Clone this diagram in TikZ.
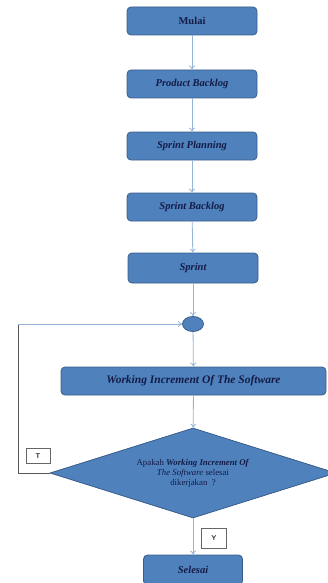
\documentclass[tikz,border=0pt]{standalone}
\usepackage{fontspec}
\setmainfont{Liberation Serif}
\usetikzlibrary{shapes.geometric,arrows.meta}
\definecolor{boxfill}{RGB}{79,129,189}
\definecolor{boxline}{RGB}{56,93,138}
\definecolor{flowline}{RGB}{150,180,215}
\definecolor{textnavy}{RGB}{20,28,70}

\begin{document}
\begin{tikzpicture}[x=1pt, y=-1pt,
  stepbox/.style={draw=boxline, fill=boxfill, rounded corners=4pt, line width=0.8pt,
    minimum width=130pt, minimum height=28pt, inner sep=0pt, text=textnavy,
    font=\fontsize{10.5}{12}\selectfont\bfseries\itshape},
  flow/.style={draw=flowline, line width=0.8pt, -{To[length=4pt,width=6pt]}},
  tag/.style={draw=gray!80!black, fill=white, line width=0.8pt, inner sep=0pt,
    font=\fontsize{7}{8}\selectfont\sffamily\bfseries, text=black!80}]
\useasboundingbox (0,0) rectangle (327,583);
% main column
\node[stepbox, font=\fontsize{10.5}{12}\selectfont\bfseries] (mulai) at (192,21) {Mulai};
\node[stepbox] (pb) at (192,84) {Product Backlog};
\node[stepbox] (sp) at (192,146) {Sprint Planning};
\node[stepbox] (sb) at (192,207) {Sprint Backlog};
\node[stepbox, minimum height=30pt] (sprint) at (193,268) {Sprint};
\node[draw=boxline, fill=boxfill, ellipse, minimum width=21pt, minimum height=15pt, inner sep=0pt,
  line width=0.8pt] (mid) at (193,324) {};
\node[stepbox, minimum width=265pt, font=\fontsize{11.5}{13}\selectfont\bfseries\itshape] (wi) at (193.5,381)
  {Working Increment Of The Software};
\node[draw=boxline, fill=boxfill, diamond, aspect=3.2, minimum width=286pt, minimum height=90pt,
  inner sep=0pt, line width=0.8pt, align=center, text=textnavy,
  font=\fontsize{8.8}{10}\selectfont] (dec) at (193,473)
  {Apakah \textit{\textbf{Working Increment Of}}\\ \textit{The Software} selesai\\ dikerjakan\ \ ?};
\node[stepbox, minimum width=99pt, minimum height=30pt] (selesai) at (193,570) {Selesai};
% labels
\node[tag, minimum width=24pt, minimum height=15pt] (t) at (38,456) {T};
\node[tag, minimum width=25pt, minimum height=20pt] (y) at (214,538) {Y};
% connectors
\draw[flow] (mulai) -- (pb);
\draw[flow] (pb) -- (sp);
\draw[flow] (sp) -- (sb);
\draw[flow] (sb) -- (sprint);
\draw[flow] (sprint) -- (mid);
\draw[flow] (mid) -- (wi);
\draw[flow] (wi) -- (dec);
\draw[flow] (dec) -- (selesai);
% loop back
\coordinate (lp) at (18,324);
\draw[draw=gray!70!black, line width=0.8pt] (dec.west) -| (lp);
\draw[flow] (lp) -- (mid.west);
\end{tikzpicture}
\end{document}
